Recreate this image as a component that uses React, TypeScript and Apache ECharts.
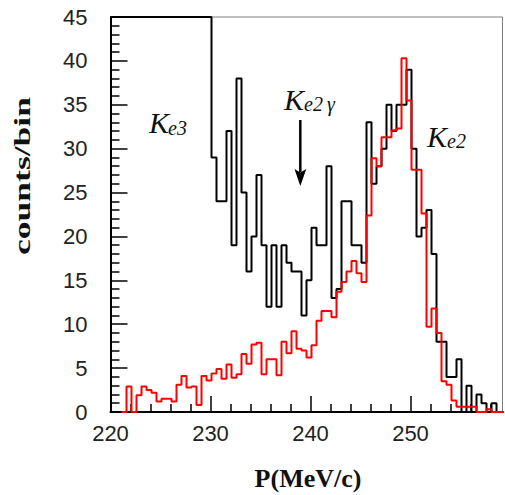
import React, { useEffect, useRef } from "react";
import * as echarts from "echarts";

// Histogram binning (MeV/c)
const BIN_START_DATA = 220.1; // low edge of first bin of data histogram
const BIN_START_MC = 221.1; // low edge of first bin of MC histogram
const BIN_WIDTH = 0.5;

// Data histogram (black), counts per bin; first 20 bins exceed the frame (drawn at the 45 frame)
const dataCounts = [
  45, 45, 45, 45, 45, 45, 45, 45, 45, 45, 45, 45, 45, 45, 45, 45, 45, 45, 45, 45,
  29, 24, 24, 32, 19, 38, 25, 16, 20, 27, 19, 12, 19, 12, 19, 17, 16, 16, 11, 15,
  21, 19, 19, 28, 13, 14, 24, 24, 19, 19, 17, 33, 26, 28, 30, 35, 32, 35, 35, 39,
  30, 20, 21, 23, 18, 8, 8, 4, 4, 6, 0, 3, 0, 2, 1, 0, 1, 0, 0,
];

// MC histogram (red)
const mcCounts = [
  0, 2.9, 0, 1.9, 2.9, 2.5, 2.2, 1.2, 1.5, 1.5, 1.2, 3.1, 4.1, 2.8, 2.9, 0.8, 4.1, 3.6,
  4.4, 4.9, 3.8, 5.4, 3.9, 4.3, 6.6, 5.5, 7.7, 7.9, 4.3, 6.0, 6.0, 4.2, 8.0, 6.7, 9.2,
  7.2, 7.0, 6.2, 7.6, 10.4, 11.5, 11.5, 10.8, 13.7, 14.8, 16.0, 17.2, 15.8, 14.8, 22.4,
  28.9, 28.0, 31.3, 31.3, 32.1, 32.3, 40.3, 35.5, 27.6, 27.6, 22.6, 9.7, 11.8, 9.0, 3.5,
  3.1, 1.3, 0.6, 0.6, 0.6, 0.6, 0, 0, 0.3, 0, 0, 0,
];

const X_MAJOR = [220, 230, 240, 250];
const X_MINOR = [222, 224, 226, 228, 232, 234, 236, 238, 242, 244, 246, 248, 252, 254, 256, 258];

function toSteps(start: number, counts: number[]) {
  const pts: number[][] = counts.map((c, i) => [start + i * BIN_WIDTH, c]);
  pts.push([start + counts.length * BIN_WIDTH, counts[counts.length - 1]]);
  return pts;
}

const serif = '"Liberation Serif", "DejaVu Serif", serif';
const sans = '"Liberation Sans", Arial, sans-serif';

export default function App() {
  const ref = useRef<HTMLDivElement>(null);
  useEffect(() => {
    if (!ref.current) return;
    const chart = echarts.init(ref.current, null, { renderer: "svg" });
    const tickStyle = { color: "#000", width: 1.5 };
    const labelK = (x: number, y: number, k: string, sx: number, sy: number, sub: string) => [
      {
        type: "text",
        x,
        y,
        style: {
          text: k,
          fontSize: 30,
          fontStyle: "italic",
          fontFamily: serif,
          fill: "#111",
          align: "left",
          verticalAlign: "middle",
        },
      },
      {
        type: "text",
        x: sx,
        y: sy,
        style: {
          text: sub,
          fontSize: 20,
          fontStyle: "italic",
          fontFamily: serif,
          fill: "#111",
          align: "left",
          verticalAlign: "middle",
        },
      },
    ];
    chart.setOption({
      animation: false,
      grid: {
        left: 110.5,
        top: 17,
        width: 392,
        height: 395,
        show: true,
        borderColor: "#808080",
        borderWidth: 1,
      },
      xAxis: [
        {
          type: "value",
          min: 220,
          max: 259.2,
          position: "bottom",
          axisLine: { show: true, onZero: false, lineStyle: { color: "#000", width: 2 } },
          axisTick: { show: true, inside: true, length: 16, customValues: X_MAJOR, lineStyle: tickStyle },
          axisLabel: {
            customValues: X_MAJOR,
            margin: 10,
            fontSize: 22,
            fontFamily: sans,
            color: "#222",
          },
          splitLine: { show: false },
        },
        {
          type: "value",
          min: 220,
          max: 259.2,
          position: "bottom",
          axisLine: { show: false },
          axisTick: { show: true, inside: true, length: 8, customValues: X_MINOR, lineStyle: tickStyle },
          axisLabel: { show: false },
          splitLine: { show: false },
        },
      ],
      yAxis: {
        type: "value",
        min: 0,
        max: 45,
        interval: 5,
        axisLine: { show: true, lineStyle: { color: "#000", width: 2 } },
        axisTick: { show: true, inside: true, length: 17, lineStyle: tickStyle },
        minorTick: { show: true, splitNumber: 5, length: 9, lineStyle: tickStyle },
        axisLabel: { margin: 23, fontSize: 22, fontFamily: sans, color: "#222" },
        splitLine: { show: false },
        minorSplitLine: { show: false },
      },
      series: [
        {
          type: "line",
          name: "data",
          xAxisIndex: 0,
          step: "end",
          showSymbol: false,
          symbol: "none",
          clip: true,
          data: toSteps(BIN_START_DATA, dataCounts),
          lineStyle: { color: "#000", width: 2 },
          z: 3,
        },
        {
          type: "line",
          name: "MC",
          xAxisIndex: 0,
          step: "end",
          showSymbol: false,
          symbol: "none",
          clip: true,
          data: toSteps(BIN_START_MC, mcCounts),
          lineStyle: { color: "#ff0000", width: 2 },
          z: 4,
        },
      ],
      graphic: [
        {
          type: "text",
          x: 22,
          y: 176,
          rotation: Math.PI / 2,
          scaleX: 1.48,
          style: {
            text: "counts/bin",
            fontSize: 24,
            fontWeight: "bold",
            fontFamily: serif,
            fill: "#111",
            align: "center",
            verticalAlign: "middle",
          },
        },
        {
          type: "text",
          x: 308,
          y: 478,
          style: {
            text: "P(MeV/c)",
            fontSize: 26,
            fontWeight: "bold",
            fontFamily: serif,
            fill: "#111",
            align: "center",
            verticalAlign: "middle",
          },
        },
        ...labelK(149, 122.5, "K", 168, 128, "e3"),
        ...labelK(284, 99.5, "K", 304, 104, "e2\u2009\u03b3"),
        ...labelK(427, 136.5, "K", 447, 141, "e2"),
        {
          type: "line",
          shape: { x1: 300.3, y1: 120, x2: 300.3, y2: 172 },
          style: { stroke: "#000", lineWidth: 2.5 },
        },
        {
          type: "polygon",
          shape: {
            points: [
              [294.5, 169],
              [300.3, 172.5],
              [306.3, 169],
              [300.3, 186],
            ],
          },
          style: { fill: "#000" },
        },
      ],
    });
    return () => chart.dispose();
  }, []);
  return (
    <div
      ref={ref}
      style={{ position: "fixed", left: 0, top: 0, width: 505, height: 495, background: "#fff" }}
    />
  );
}
